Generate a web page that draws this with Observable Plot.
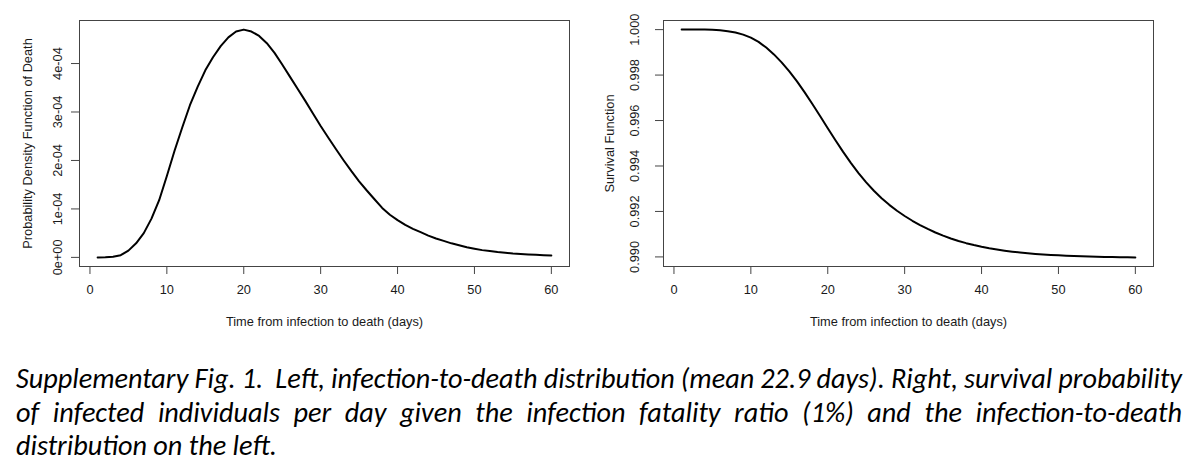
<!DOCTYPE html>
<html>
<head>
<meta charset="utf-8">
<script src="https://cdn.jsdelivr.net/npm/d3@7"></script>
<script src="https://cdn.jsdelivr.net/npm/@observablehq/plot@0.6"></script>
<style>
  html, body { margin: 0; padding: 0; background: #fff; }
  body { width: 1200px; height: 472px; overflow: hidden; }
  #plots { display: flex; height: 340px; }
  #plots svg { display: block; }
  #caption { margin-top: 22px; }
  .cline {
    white-space: pre; height: 33.5px; line-height: 33.5px;
    font-style: italic; font-size: 26px; color: #000;
    font-family: "Carlito", "Liberation Sans Narrow", "Roboto Condensed", "DejaVu Sans Condensed", "Open Sans", sans-serif;
    padding-left: 16px;
  }
  .cline span { display: inline-block; }
</style>
</head>
<body>
<div id="plots"></div>
<div id="caption"></div>
<script>
// ---- data ----
const days = [1,2,3,4,5,6,7,8,9,10,11,12,13,14,15,16,17,18,19,20,21,22,23,24,25,26,27,28,29,30,
              31,32,33,34,35,36,37,38,39,40,41,42,43,44,45,46,47,48,49,50,51,52,53,54,55,56,57,58,59,60];
// probability density function of death (per day)
const pdfDeath = [0.0e-4,0.005e-4,0.015e-4,0.045e-4,0.14e-4,0.29e-4,0.50e-4,0.80e-4,1.18e-4,1.68e-4,
                  2.20e-4,2.68e-4,3.14e-4,3.52e-4,3.86e-4,4.13e-4,4.36e-4,4.54e-4,4.66e-4,4.70e-4,
                  4.66e-4,4.57e-4,4.42e-4,4.22e-4,3.98e-4,3.73e-4,3.48e-4,3.23e-4,2.97e-4,2.71e-4,
                  2.47e-4,2.23e-4,2.00e-4,1.78e-4,1.57e-4,1.38e-4,1.20e-4,1.02e-4,0.88e-4,0.77e-4,
                  0.67e-4,0.59e-4,0.52e-4,0.45e-4,0.39e-4,0.34e-4,0.29e-4,0.25e-4,0.21e-4,0.18e-4,
                  0.15e-4,0.13e-4,0.11e-4,0.095e-4,0.08e-4,0.07e-4,0.06e-4,0.052e-4,0.045e-4,0.038e-4];
// survival function
const survival = [1.00000,1.00000,1.00000,1.00000,0.99999,0.99997,0.99993,0.99987,0.99978,0.99965,
                  0.99946,0.99921,0.99891,0.99856,0.99816,0.99772,0.99724,0.99673,0.99620,0.99566,
                  0.99513,0.99462,0.99414,0.99369,0.99328,0.99291,0.99258,0.99229,0.99203,0.99180,
                  0.99159,0.99140,0.99123,0.991075,0.990935,0.99081,0.99070,0.990605,0.99052,0.990445,
                  0.99038,0.990323,0.990273,0.99023,0.990193,0.990161,0.990133,0.990109,0.990088,0.99007,
                  0.990054,0.99004,0.990028,0.990018,0.990009,0.990001,0.989994,0.989988,0.989983,0.989979];
const xTicks = [0,10,20,30,40,50,60];
const pdfTicks = [0, 1e-4, 2e-4, 3e-4, 4e-4];
const survTicks = [0.990, 0.992, 0.994, 0.996, 0.998, 1.000];
const xLabel = "Time from infection to death (days)";
const pdfLabel = "Probability Density Function of Death";
const survLabel = "Survival Function";
const captionLines = [
  "Supplementary Fig. 1.  Left, infection-to-death distribution (mean 22.9 days). Right, survival probability",
  "of infected individuals per day given the infection fatality ratio (1%) and the infection-to-death",
  "distribution on the left."
];

// ---- helpers ----
const font = "'Liberation Sans', Arial, Helvetica, sans-serif";
function padded(ext) { const p = (ext[1] - ext[0]) * 0.04; return [ext[0] - p, ext[1] + p]; }
function sci(d) {
  return d.toExponential(0).replace(/e([+-])(\d)$/, "e$10$2");
}

function panel({values, yTicks, yFormat, yLabel, marginLeft, marginRight, yTickPadding, yLabelOffset}) {
  const rows = days.map((d, i) => ({day: d, v: values[i]}));
  return Plot.plot({
    width: 600, height: 340,
    marginTop: 20, marginBottom: 74, marginLeft, marginRight,
    style: {fontFamily: font, fontSize: "12.8px", color: "#1a1a1a", background: "#fff", overflow: "visible"},
    x: {domain: padded(d3.extent(days))},
    y: {domain: padded(d3.extent(values))},
    marks: [
      Plot.axisX({ticks: xTicks, tickSize: 8, tickPadding: 10, stroke: "#444",
                  label: xLabel, labelAnchor: "center", labelArrow: "none", labelOffset: 59}),
      Plot.axisY({ticks: yTicks, tickFormat: yFormat, tickRotate: -90, tickSize: 8, tickPadding: yTickPadding,
                  stroke: "#444", label: yLabel, labelAnchor: "center", labelArrow: "none", labelOffset: yLabelOffset}),
      Plot.frame({stroke: "#444", strokeWidth: 1}),
      Plot.line(rows, {x: "day", y: "v", stroke: "#000", strokeWidth: 2})
    ]
  });
}

const plots = document.getElementById("plots");
plots.append(panel({values: pdfDeath, yTicks: pdfTicks, yFormat: sci, yLabel: pdfLabel,
                    marginLeft: 79, marginRight: 31, yTickPadding: 10, yLabelOffset: 57}));
plots.append(panel({values: survival, yTicks: survTicks, yFormat: d3.format(".3f"), yLabel: survLabel,
                    marginLeft: 63, marginRight: 47, yTickPadding: 17, yLabelOffset: 59}));

// ---- caption ----
const cap = document.getElementById("caption");
const spans = captionLines.map(t => {
  const div = document.createElement("div");
  div.className = "cline";
  const s = document.createElement("span");
  s.textContent = t;
  div.append(s);
  cap.append(div);
  return s;
});
// fit font so the last (natural) line matches the reference width, justify the first two
const w3 = spans[2].getBoundingClientRect().width;
let fs = 26 * 261 / w3;
spans.forEach(s => s.parentNode.style.fontSize = fs + "px");
const target = 1166;
[0, 1].forEach(i => {
  const s = spans[i];
  const w = s.getBoundingClientRect().width;
  const n = (captionLines[i].match(/ /g) || []).length;
  s.style.wordSpacing = ((target - w) / n) + "px";
});
</script>
</body>
</html>
